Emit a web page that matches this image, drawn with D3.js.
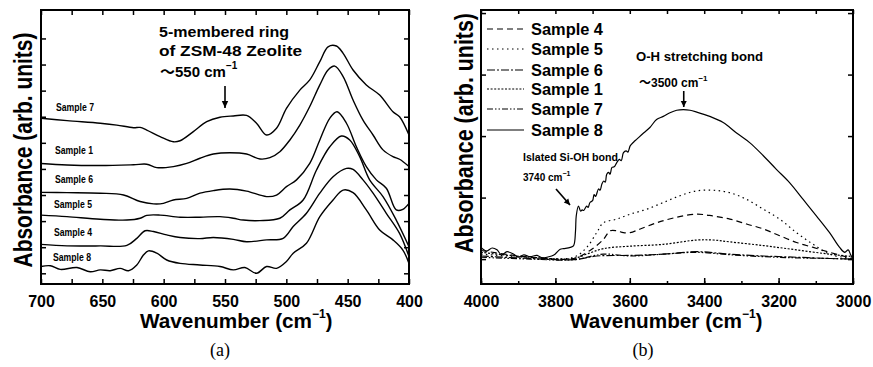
<!DOCTYPE html>
<html><head><meta charset="utf-8">
<script src="https://cdn.jsdelivr.net/npm/d3@7"></script>
<style>
html,body{margin:0;padding:0;background:#fff;}
svg{display:block;}
text{font-family:"Liberation Sans",Arial,sans-serif;font-weight:bold;fill:#000;}
</style></head>
<body>
<svg id="c" width="873" height="367"></svg>
<script>
// ---------- Panel (a) data: [wavenumber cm-1, absorbance arb. units] ----------
const a_sample7 = [[700,5.94],[678.8,5.85],[651.7,5.75],[638.2,5.68],[624.6,5.58],[619.2,5.59],[613.8,5.49],[602.9,5.24],[592.1,5.04],[586.6,5.08],[575.8,5.43],[564.9,5.81],[554.1,5.98],[543.2,6.03],[532.4,6.05],[524.3,5.75],[516.1,5.30],[508,5.56],[499.9,6.32],[489,7.02],[480.9,7.41],[472.7,8.11],[466,8.68],[459.2,8.71],[453.7,8.43],[445.6,7.79],[434.8,7.22],[423.9,6.83],[413.1,6.19],[407.7,6.00],[400,5.30]];
const a_sample1 = [[700,4.21],[678.8,4.15],[651.7,4.13],[624.6,4.16],[613.8,4.18],[605.6,4.05],[592.1,4.09],[581.2,4.21],[570.4,4.41],[559.5,4.57],[546,4.62],[532.4,4.57],[521.5,4.38],[513.4,4.43],[505.3,4.66],[497.1,5.11],[489,5.68],[480.9,6.39],[472.7,7.22],[466,7.79],[460.5,7.94],[453.7,7.54],[445.6,6.64],[437.5,5.87],[429.3,5.30],[421.2,4.73],[413.1,4.47],[407.7,4.37],[400,4.09]];
const a_sample6 = [[700,3.10],[678.8,3.09],[651.7,3.07],[632.7,3.00],[619.2,2.75],[608.3,2.66],[600.2,2.68],[592.1,2.81],[581.2,2.87],[570.4,3.07],[559.5,3.17],[546,3.23],[532.4,3.15],[516.1,2.94],[508,3.00],[499.9,3.32],[491.7,3.58],[480.9,4.21],[472.7,5.11],[464.6,5.94],[458.6,6.19],[451,5.75],[442.9,4.85],[434.8,4.09],[426.6,3.58],[418.5,3.26],[410.4,2.43],[405,2.45],[400,2.68]];
const a_sample5 = [[700,2.23],[678.8,2.17],[651.7,2.07],[630,2.04],[619.2,2.11],[613.8,2.22],[602.9,2.23],[586.6,2.15],[570.4,2.15],[554.1,2.17],[543.2,2.11],[535.1,2.04],[521.5,2.02],[505.3,2.11],[497.1,2.43],[486.3,2.81],[475.4,3.96],[464.6,4.85],[455.1,5.26],[448.3,5.11],[440.2,4.47],[432.1,3.58],[421.2,2.94],[410.4,2.04],[400,1.02]];
const a_sample4 = [[700,1.11],[678.8,1.05],[651.7,1.05],[630,1.07],[621.9,1.34],[615.1,1.63],[608.3,1.60],[597.5,1.47],[586.6,1.37],[570.4,1.33],[559.5,1.37],[543.2,1.30],[532.4,1.21],[516.1,1.28],[502.6,1.34],[494.4,1.79],[483.6,2.30],[472.7,3.07],[461.9,3.70],[451,4.02],[445.6,3.98],[437.5,3.58],[429.3,3.07],[418.5,2.30],[407.7,1.53],[400,0.64]];
const a_sample8 = [[700,0.26],[692.4,0.29],[684.3,0.15],[670.7,0.22],[659.9,0.06],[651.7,0.13],[643.6,0.10],[635.5,0.19],[628.7,0.10],[621.9,0.32],[616.5,0.70],[612.4,0.86],[605.6,0.77],[597.5,0.51],[586.6,0.38],[570.4,0.32],[554.1,0.26],[543.2,0.13],[533.8,0.22],[524.3,0.00],[516.1,0.26],[508,0.19],[499.9,0.45],[494.4,0.77],[483.6,1.15],[472.7,2.17],[461.9,2.81],[453.7,3.19],[445.6,3.09],[434.8,2.43],[423.9,1.66],[413.1,1.28],[405,0.89],[400,0.38]];
const aSeries = [a_sample7,a_sample1,a_sample6,a_sample5,a_sample4,a_sample8];
const aLabels = ["Sample 7","Sample 1","Sample 6","Sample 5","Sample 4","Sample 8"];
const aXTicks = [700,650,600,550,500,450,400];

// ---------- Panel (b) data ----------
const b_sample8 = [[4000,0.19],[3985,0.13],[3970,0.18],[3957,0.15],[3945,0.07],[3930,0.12],[3912,0.08],[3900,0.03],[3885,0.07],[3868,0.04],[3850,0.06],[3835,0.02],[3823,0.03],[3810,0.05],[3801,0.08],[3787,0.16],[3778,0.17],[3760,0.19],[3751,0.22],[3746,0.45],[3744,0.70],[3738,0.86],[3732,0.78],[3728,0.80],[3724,0.79],[3716,0.86],[3712,0.84],[3707,0.92],[3700,0.95],[3696,1.05],[3692,1.02],[3684,1.14],[3680,1.12],[3675,1.22],[3670,1.27],[3666,1.25],[3662,1.38],[3657,1.41],[3653,1.38],[3648,1.49],[3642,1.50],[3635,1.57],[3628,1.62],[3623,1.60],[3617,1.73],[3610,1.76],[3605,1.74],[3599,1.84],[3590,1.90],[3581,1.95],[3563,2.05],[3546,2.14],[3528,2.27],[3510,2.32],[3492,2.38],[3474,2.42],[3456,2.43],[3438,2.42],[3420,2.39],[3385,2.32],[3349,2.22],[3313,2.05],[3277,1.89],[3241,1.68],[3206,1.46],[3170,1.24],[3134,0.97],[3098,0.70],[3063,0.43],[3036,0.19],[3022,0.11],[3013,0.15],[3007,0.08],[3000,0.00]];
const b_sample5 = [[4000,0.08],[3868,0.03],[3751,0.03],[3716,0.19],[3689,0.43],[3671,0.59],[3635,0.65],[3599,0.73],[3555,0.81],[3510,0.92],[3465,1.03],[3420,1.11],[3376,1.12],[3331,1.08],[3286,0.97],[3241,0.81],[3197,0.65],[3152,0.43],[3107,0.24],[3063,0.08],[3027,0.03],[3000,0.00]];
const b_sample4 = [[4000,0.14],[3868,0.03],[3751,0.01],[3707,0.14],[3671,0.32],[3653,0.46],[3635,0.46],[3617,0.43],[3599,0.43],[3572,0.49],[3528,0.59],[3474,0.68],[3420,0.73],[3376,0.70],[3331,0.65],[3286,0.57],[3241,0.49],[3197,0.38],[3152,0.27],[3107,0.19],[3063,0.11],[3027,0.05],[3000,0.01]];
const b_sample1 = [[4000,0.11],[3868,0.03],[3751,0.01],[3716,0.08],[3671,0.17],[3599,0.21],[3510,0.24],[3420,0.31],[3376,0.31],[3331,0.28],[3241,0.22],[3152,0.15],[3063,0.08],[3000,0.04]];
const b_sample6 = [[4000,0.05],[3868,0.01],[3751,-0.01],[3689,0.05],[3599,0.06],[3510,0.08],[3420,0.12],[3331,0.08],[3241,0.05],[3152,0.03],[3063,0.01],[3000,0.00]];
const b_sample7 = [[4000,0.03],[3868,0.00],[3751,-0.01],[3671,0.08],[3599,0.05],[3510,0.08],[3420,0.11],[3331,0.07],[3241,0.04],[3152,0.02],[3063,0.01],[3000,0.00]];
const bSeries = [b_sample4,b_sample5,b_sample6,b_sample1,b_sample7,b_sample8];
const bLabels = ["Sample 4","Sample 5","Sample 6","Sample 1","Sample 7","Sample 8"];
const bDashes = ["6,4","1.5,3.5","8,2,2,2","2,1.6","6,2,1.5,2,1.5,2",null];
const bXTicks = [4000,3800,3600,3400,3200,3000];

// ---------- drawing ----------
const svg = d3.select("#c");

function frame(x0,x1,y0,y1){
  svg.append("rect").attr("x",x0).attr("y",y0).attr("width",x1-x0).attr("height",y1-y0)
    .attr("fill","none").attr("stroke","#000").attr("stroke-width",2);
}
function cleanAxis(g){ g.select(".domain").remove(); g.selectAll("line").attr("stroke","#000").attr("stroke-width",1.5); }
function boldTicks(g){ g.selectAll("text").attr("font-size",16).style("font-family","Liberation Sans, Arial, sans-serif").style("font-weight","bold"); }

// Panel (a)
const ax = d3.scaleLinear().domain([700,400]).range([41,409]);
const ay = d3.scaleLinear().domain([-0.41,10.09]).range([284,10]);
const aMinor = d3.range(700,399,-25);
const aYT = d3.range(0,10);
svg.append("g").attr("transform","translate(0,284)")
  .call(d3.axisBottom(ax).tickValues(aMinor).tickSize(-5).tickFormat(""))
  .call(cleanAxis);
svg.append("g").attr("transform","translate(0,284)")
  .call(d3.axisBottom(ax).tickValues(aXTicks).tickSize(0).tickPadding(12).tickFormat(d3.format("d")))
  .call(cleanAxis).call(boldTicks);
svg.append("g").attr("transform","translate(0,10)")
  .call(d3.axisTop(ax).tickValues(aMinor).tickSize(-5).tickFormat("")).call(cleanAxis);
svg.append("g").attr("transform","translate(41,0)")
  .call(d3.axisLeft(ay).tickValues(aYT).tickSize(-5).tickFormat("")).call(cleanAxis);
svg.append("g").attr("transform","translate(409,0)")
  .call(d3.axisRight(ay).tickValues(aYT).tickSize(-5).tickFormat("")).call(cleanAxis);

const aLine = d3.line().x(d=>ax(d[0])).y(d=>ay(d[1])).curve(d3.curveCatmullRom.alpha(0.5));
const gA = svg.append("g");
aSeries.forEach(s=>{
  gA.append("path").attr("d",aLine(s)).attr("fill","none").attr("stroke","#000").attr("stroke-width",1.4);
});
frame(41,409,10,284);

const aLabPos = [[56,111],[55,154],[55,183],[54,208],[54,236],[53,261]];
aLabels.forEach((t,i)=>{
  svg.append("text").attr("x",aLabPos[i][0]).attr("y",aLabPos[i][1]).attr("font-size",10)
    .attr("textLength",38).attr("lengthAdjust","spacingAndGlyphs").text(t);
});

// annotation (a)
svg.append("text").attr("x",159).attr("y",37).attr("font-size",15).attr("textLength",130).attr("lengthAdjust","spacingAndGlyphs").text("5\u2010membered ring");
svg.append("text").attr("x",159).attr("y",56).attr("font-size",15).attr("textLength",143).attr("lengthAdjust","spacingAndGlyphs").text("of ZSM\u201048 Zeolite");
{
  const t = svg.append("text").attr("x",160).attr("y",77).attr("font-size",15);
  t.append("tspan").style("font-family","Noto Sans CJK JP, DejaVu Sans, sans-serif").text("\uFF5E");
  t.append("tspan").text("550 cm");
  t.append("tspan").attr("font-size",10).attr("dy",-8).text("\u22121");
}
function arrow(x1,y1,x2,y2,hl,hw){
  svg.append("line").attr("x1",x1).attr("y1",y1).attr("x2",x2).attr("y2",y2).attr("stroke","#000").attr("stroke-width",1.6);
  const ang = Math.atan2(y2-y1,x2-x1);
  const bx = x2 - hl*Math.cos(ang), by = y2 - hl*Math.sin(ang);
  const px = -Math.sin(ang)*hw, py = Math.cos(ang)*hw;
  svg.append("path").attr("d",`M${x2},${y2}L${bx+px},${by+py}L${bx-px},${by-py}Z`).attr("fill","#000");
}
arrow(ax(550),86,ax(550),108,7,3.2);

// axis titles
function yTitle(bx_, cy, len){
  const fs = 25;
  const t = svg.append("text").attr("text-anchor","middle").attr("font-size",fs).text("Absorbance (arb. units)");
  const natural = t.node().getComputedTextLength();
  const s = len/natural;
  t.attr("transform",`translate(${bx_},${cy}) rotate(-90) scale(${s},1)`);
}
yTitle(32,150,235);
function wnTitle(cx){
  const t = svg.append("text").attr("x",cx-97).attr("y",328).attr("font-size",20);
  t.append("tspan").attr("textLength",172).attr("lengthAdjust","spacingAndGlyphs").text("Wavenumber (cm");
  t.append("tspan").attr("font-size",12).attr("dy",-10).text("\u22121");
  t.append("tspan").attr("dy",10).text(")");
}
wnTitle(237);
function panelTag(cx,s){
  svg.append("text").attr("x",cx).attr("y",356).attr("text-anchor","middle").attr("font-size",18)
    .style("font-family","Liberation Serif, Times New Roman, serif").style("font-weight","normal").text(s);
}
panelTag(220,"(a)");

// Panel (b)
const bx = d3.scaleLinear().domain([4000,3000]).range([481,853]);
const by = d3.scaleLinear().domain([-0.405,4.05]).range([284,10]);
const bMinor = d3.range(4000,2999,-100);
const bYT = [0,1,2,3,4];
svg.append("g").attr("transform","translate(0,284)")
  .call(d3.axisBottom(bx).tickValues(bMinor).tickSize(-3).tickFormat("")).call(cleanAxis);
svg.append("g").attr("transform","translate(0,284)")
  .call(d3.axisBottom(bx).tickValues(bXTicks).tickSize(-6).tickPadding(12).tickFormat(d3.format("d")))
  .call(cleanAxis).call(boldTicks);
svg.append("g").attr("transform","translate(0,10)")
  .call(d3.axisTop(bx).tickValues(bMinor).tickSize(-4).tickFormat("")).call(cleanAxis);
svg.append("g").attr("transform","translate(481,0)")
  .call(d3.axisLeft(by).tickValues(bYT).tickSize(-5).tickFormat("")).call(cleanAxis);
svg.append("g").attr("transform","translate(853,0)")
  .call(d3.axisRight(by).tickValues(bYT).tickSize(-5).tickFormat("")).call(cleanAxis);

const bLine = d3.line().x(d=>bx(d[0])).y(d=>by(d[1])).curve(d3.curveCatmullRom.alpha(0.5));
bSeries.forEach((s,i)=>{
  const p = svg.append("path").attr("d",bLine(s)).attr("fill","none").attr("stroke","#000").attr("stroke-width",1.2);
  if(bDashes[i]) p.attr("stroke-dasharray",bDashes[i]);
});
frame(481,853,10,284);

// legend (b)
const legY = [29,49,70,89,109,130];
bLabels.forEach((t,i)=>{
  const l = svg.append("line").attr("x1",487).attr("x2",524).attr("y1",legY[i]).attr("y2",legY[i]).attr("stroke","#000").attr("stroke-width",1.2);
  if(bDashes[i]) l.attr("stroke-dasharray",bDashes[i]);
  svg.append("text").attr("x",531).attr("y",legY[i]+6).attr("font-size",16).attr("textLength",72).attr("lengthAdjust","spacingAndGlyphs").text(t);
});

// annotations (b)
svg.append("text").attr("x",636).attr("y",61).attr("font-size",12).attr("textLength",127).attr("lengthAdjust","spacingAndGlyphs").text("O\u2010H stretching bond");
{
  const t = svg.append("text").attr("x",639).attr("y",87).attr("font-size",12);
  t.append("tspan").style("font-family","Noto Sans CJK JP, DejaVu Sans, sans-serif").text("\uFF5E");
  t.append("tspan").text("3500 cm");
  t.append("tspan").attr("font-size",8).attr("dy",-6).text("\u22121");
}
arrow(bx(3455),91,bx(3455),107,6,3);
svg.append("text").attr("x",523).attr("y",161).attr("font-size",10).attr("textLength",95).attr("lengthAdjust","spacingAndGlyphs").text("Islated  Si\u2010OH bond");
{
  const t = svg.append("text").attr("x",523).attr("y",181).attr("font-size",10);
  t.append("tspan").text("3740 cm");
  t.append("tspan").attr("font-size",7).attr("dy",-5).text("\u22121");
}
arrow(556,189,570,205,6,3);

yTitle(473,133,240);
wnTitle(667);
panelTag(643,"(b)");
</script>
</body></html>
